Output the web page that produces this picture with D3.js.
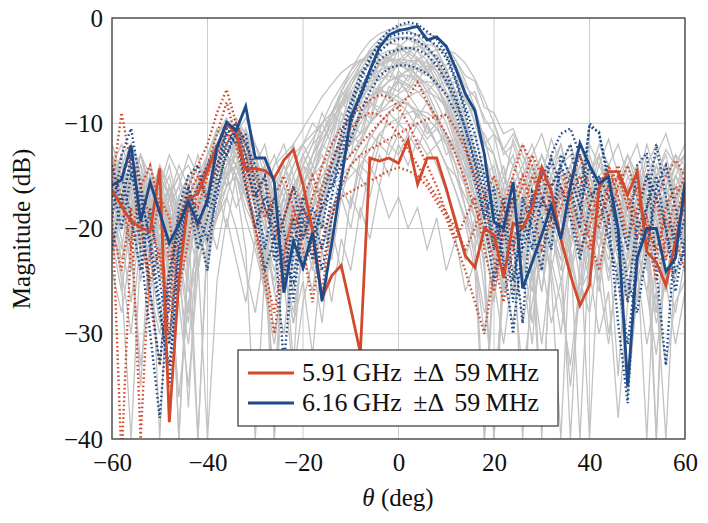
<!DOCTYPE html>
<html><head><meta charset="utf-8">
<script src="https://cdn.jsdelivr.net/npm/d3@7"></script>
<style>
html,body{margin:0;padding:0;background:#fff;}
svg{display:block;font-family:"Liberation Serif","DejaVu Serif",serif;}
</style></head>
<body><svg id="c" width="708" height="523"></svg>
<script>
// ---- data ----
const theta = [-60,-58,-56,-54,-52,-50,-48,-46,-44,-42,-40,-38,-36,-34,-32,-30,-28,-26,-24,-22,
 -20,-18,-16,-14,-12,-10,-8,-6,-4,-2,0,2,4,6,8,10,12,14,16,18,20,22,24,26,28,30,32,34,36,38,
 40,42,44,46,48,50,52,54,56,58,60];
const xTicks = [-60,-40,-20,0,20,40,60];
const yTicks = [-40,-30,-20,-10,0];
const legendLabels = ["5.91\u2009GHz \u00b1\u0394 59\u2009MHz", "6.16\u2009GHz \u00b1\u0394 59\u2009MHz"];

const red591 = [-16.3,-17.9,-19.3,-19.9,-20.3,-14.3,-38.4,-25.0,-17.2,-16.7,
 -14.5,-12.2,-10.1,-10.9,-14.4,-14.3,-14.5,-15.2,-13.5,-12.5,
 -15.8,-20.2,-26.6,-24.5,-23.5,-27.6,-31.8,-13.3,-13.6,-13.3,
 -13.8,-11.6,-15.8,-13.3,-13.3,-16.2,-19.5,-22.6,-23.7,-20.0,
 -20.6,-24.7,-19.5,-20.0,-18.0,-14.2,-16.5,-21.0,-24.4,-27.3,
 -25.4,-16.2,-14.6,-14.6,-16.8,-14.6,-22.2,-23.2,-25.4,-21.3,-16.8];

const blue616 = [-15.9,-15.4,-12.1,-19.3,-15.6,-18.5,-21.4,-19.6,-17.5,-19.5,
 -17.3,-12.3,-9.9,-10.7,-8.4,-13.3,-13.3,-15.6,-26.1,-21.2,
 -23.7,-20.4,-26.9,-21.5,-15.5,-9.4,-7.4,-5.0,-2.8,-1.6,
 -1.2,-1.0,-0.8,-2.1,-1.8,-2.7,-4.8,-7.2,-8.8,-13.0,
 -19.4,-20.0,-15.6,-25.7,-23.2,-20.6,-17.8,-21.0,-16.0,-11.9,
 -14.0,-15.7,-15.1,-20.0,-35.0,-22.8,-20.0,-20.0,-24.1,-22.8,-15.6];

// neighbouring frequencies (dotted)
const redDotted1 = [-16,-9,-14,-20,-25,-22,-28,-19,-16,-14,-12,-9,-6.8,-10,-13,-16,-19,-17,-15,-18,
 -21,-17,-14,-12,-10.5,-9.5,-8.5,-7.8,-7.3,-7.5,-8.5,-10,-12,-14,-16,-18.5,-21,-19,-17,-22,
 -26,-21,-18,-16,-13,-15,-18,-21,-17,-15,-18,-20,-16,-14,-17,-21,-19,-23,-18,-16,-17];
const redDotted2 = [-18,-42,-21,-16,-14,-18,-23,-19,-17,-15,-17,-13,-11,-12,-16,-20,-24,-28,-22,-19,
 -17,-15,-18,-16,-14,-13,-12,-11,-10,-9,-8.5,-7.5,-6.1,-8,-9.5,-11,-13,-15.5,-18,-20,
 -23,-27,-22,-18,-15,-17,-19,-16,-18,-22,-20,-16,-14,-17,-21,-18,-15,-17,-23,-19,-16];
const redDotted3 = [-14,-17,-22,-19,-27,-33,-24,-20,-17,-18,-15,-12,-10.5,-11,-14,-17,-15,-19,-24,-20,
 -18,-22,-26,-19,-16,-14,-13,-12.5,-12,-11.5,-11,-10.5,-10,-9.6,-9.4,-9.2,-10.5,-12.5,-15,-18,
 -22,-18,-15,-12,-14,-17,-20,-18,-16,-13,-16,-19,-17,-15,-18,-16,-20,-25,-21,-17,-15];
const redDotted4 = [-20,-24,-18,-40,-22,-17,-19,-26,-21,-16,-14,-11,-8,-11.5,-15,-20,-25,-30,-23,-18,
 -22,-27,-21,-18,-17,-16.5,-16,-15.5,-15,-14.5,-14.2,-14.5,-15,-16,-17.5,-19,-21.5,-24,-27,-30,
 -24,-20,-17,-15,-18,-22,-19,-17,-15,-18,-21,-24,-19,-16,-14,-17,-20,-22,-19,-21,-24];
const redDotted5 = [-17,-15,-13,-16,-19,-23,-30,-22,-18,-20,-17,-14,-12,-10,-12,-15,-18,-21,-19,-16,
 -18,-20,-16,-13.5,-12,-10.5,-9.5,-9,-9.2,-10,-11,-12.5,-14,-15.5,-17,-18.5,-20,-22,-20,-17,
 -15,-18,-21,-19,-17,-15,-16,-14.5,-17,-20,-22,-18,-16,-15,-17,-19,-22,-17,-15,-13.5,-15];

const blueDotted1 = [-19,-13,-10.5,-16,-22,-28,-33,-24,-16,-20,-24,-15,-11,-10,-12,-14,-18,-20,-33,-22,
 -17,-19,-22,-17,-12,-8.5,-6,-4,-2.2,-1.2,-0.7,-0.4,-0.6,-1.3,-2,-3.4,-5.8,-8.5,-11,-15,
 -18,-24,-21,-29,-16.5,-18,-13,-11,-10.5,-13,-17,-16,-19,-29,-36.6,-20,-18,-12,-17,-22,-19];
const blueDotted2 = [-14,-18,-13,-22,-30,-38,-26,-18,-15,-14,-18,-14,-10.5,-12,-11,-16,-22,-17,-20,-27,
 -19,-23,-17,-14,-11,-8,-5.5,-3.8,-2.5,-1.8,-1.5,-1.4,-1.6,-2,-2.6,-3.8,-6,-9,-12.5,-16,
 -21,-17,-25,-19,-22,-17,-19,-14,-16,-20,-10,-11,-15,-22,-27,-19,-15,-17,-20,-24,-22];
const blueDotted3 = [-17,-15,-19,-24,-18,-25,-31,-21,-17,-22,-19,-16,-13,-11,-14,-17,-15,-23,-19,-16,
 -21,-18,-20,-15,-13,-10,-7.5,-5.5,-4,-3.3,-3,-2.8,-3,-3.5,-4.5,-6,-8,-10.5,-13.5,-17,
 -22,-19,-27,-17,-20,-24,-16,-14,-12,-17,-10.3,-10.8,-16,-18,-22,-14,-12.8,-24,-33,-20,-18];
const blueDotted4 = [-22,-17,-14,-18,-26,-33,-24,-20,-16,-19,-21,-17,-12,-10.5,-13,-18,-24,-21,-25,-19,
 -24,-21,-18,-16,-14,-11.5,-9,-7,-5.5,-4.8,-4.5,-4.5,-4.8,-5.3,-6.2,-7.3,-9,-12,-15.5,-19,
 -16,-23,-30,-21,-17,-19,-22,-13,-15,-18,-14,-17,-21,-25,-31,-23,-18,-15,-20,-26,-21];
const blueDotted5 = [-16,-20,-15,-17,-21,-27,-35,-22,-18,-16,-14,-12,-13,-10.5,-16,-20,-17,-19,-23,-25,
 -18,-20,-24,-19,-15,-10,-7,-5,-3.2,-2.4,-2,-1.9,-2.2,-2.8,-3.8,-5.2,-7.5,-10.5,-14,-19,
 -25,-20,-17,-22,-19,-15,-13.5,-16,-19,-23,-18,-15,-17,-20,-25,-28,-22,-16,-14,-18,-23];

// other frequencies (grey)
const grey01 = [-15,-13,-17,-20,-16,-19,-24,-18,-16,-21,-17,-14,-11,-10,-12,-15,-19,-23,-20,-18,-17,-15,-14,-13,-12,-10,-8,-6,-4.5,-3.5,-3,-2.8,-3.2,-4,-5.5,-7.5,-10,-13,-16,-19,-22,-18,-16,-20,-25,-19,-17,-15,-18,-21,-17,-15,-18,-22,-19,-16,-20,-24,-18,-16,-17];
const grey02 = [-18,-22,-16,-14,-17,-21,-27,-20,-17,-15,-18,-16,-13,-12,-11,-14,-17,-20,-24,-21,-19,-17,-16,-14,-13,-12,-10,-8.5,-7,-6,-5.5,-5,-4.8,-5.2,-6.5,-8,-10,-12,-15,-18,-20,-23,-19,-17,-21,-26,-20,-18,-16,-19,-22,-18,-15,-17,-20,-25,-21,-17,-19,-22,-18];
const grey03 = [-13,-17,-24,-19,-15,-18,-31,-22,-17,-19,-16,-13,-11,-12,-15,-18,-21,-26,-30,-22,-18,-15,-12,-10,-8,-6.5,-5,-3.5,-2.5,-2,-1.8,-2,-2.5,-3.5,-5,-7,-9.5,-12.5,-16,-21,-27,-20,-17,-22,-29,-21,-16,-14,-17,-23,-19,-16,-21,-34,-22,-17,-15,-19,-26,-20,-15];
const grey04 = [-20,-17,-15,-19,-23,-18,-16,-20,-26,-22,-19,-15,-13,-14,-17,-20,-18,-16,-19,-23,-21,-18,-17,-16,-15,-14,-13,-11.5,-10,-9,-8,-7.5,-7,-7,-7.5,-8.5,-10,-12,-14,-17,-21,-18,-20,-25,-19,-16,-18,-21,-24,-19,-17,-20,-23,-18,-16,-19,-22,-28,-21,-18,-20];
const grey05 = [-16,-19,-14,-17,-26,-21,-18,-40,-23,-18,-14,-11,-10,-11,-13,-17,-24,-35,-22,-17,-14,-12,-11,-9,-7.5,-6,-5,-4.5,-4,-3.8,-4,-4.5,-5.5,-7,-9,-11.5,-14,-18,-23,-30,-21,-17,-15,-18,-24,-38,-22,-16,-14,-17,-21,-26,-19,-16,-18,-23,-40,-20,-16,-14,-16];
const grey06 = [-12,-15,-18,-16,-20,-17,-19,-22,-28,-20,-17,-14,-12,-11,-13,-14,-16,-19,-17,-20,-23,-18,-14,-11,-8.5,-6.5,-4.5,-3,-2,-1.3,-0.8,-0.6,-0.9,-1.8,-3,-4.8,-7,-9.5,-13,-17,-20,-22,-18,-16,-19,-17,-15,-18,-23,-27,-18,-15,-14,-17,-21,-19,-16,-18,-22,-19,-16];
const grey07 = [-17,-14,-16,-21,-19,-15,-17,-20,-18,-23,-20,-17,-14,-12,-13,-16,-14,-17,-21,-19,-16,-13,-11,-9.5,-8.5,-7.5,-6.5,-6,-5.8,-5.5,-5.8,-6.3,-7,-8,-9.5,-11,-13,-15.5,-14,-17,-19,-16,-22,-19,-15,-17,-20,-24,-20,-17,-15,-18,-21,-17,-19,-24,-20,-17,-15,-18,-21];
const grey08 = [-21,-18,-15,-13,-16,-20,-18,-22,-37,-21,-18,-15,-13,-12,-14,-18,-22,-19,-16,-18,-21,-19,-17,-14,-11,-9,-7,-5.5,-4.5,-3.8,-3.2,-2.9,-2.7,-3,-4,-5.5,-7.5,-10,-13,-17,-22,-26,-20,-40,-23,-18,-16,-14,-17,-20,-18,-15,-17,-20,-26,-19,-16,-15,-17,-21,-24];
const grey09 = [-15,-18,-21,-17,-14,-17,-19,-25,-20,-17,-21,-19,-16,-15,-17,-20,-23,-19,-22,-26,-20,-17,-15,-14,-13,-12,-11,-10,-9,-8.5,-8,-8.2,-8.8,-9.5,-10.5,-12,-14,-16,-19,-23,-19,-17,-20,-18,-22,-20,-17,-19,-16,-21,-24,-19,-17,-15,-18,-20,-17,-22,-25,-19,-17];
const grey10 = [-14,-12,-15,-19,-17,-22,-20,-17,-15,-17,-19,-16,-14,-13,-15,-17,-15,-18,-24,-29,-22,-18,-16,-15,-13,-11,-9.5,-8,-6.5,-5,-4,-3.2,-2.7,-2.5,-2.7,-3.5,-5,-7,-10,-13,-16,-20,-24,-18,-16,-13,-15,-18,-21,-17,-14,-16,-19,-22,-18,-15,-17,-20,-18,-15,-13];
const grey11 = [-19,-25,-40,-22,-18,-15,-17,-21,-19,-16,-13,-12,-13,-16,-22,-40,-24,-18,-16,-19,-23,-20,-16,-12,-10,-8,-6.5,-5.5,-5,-4.6,-4.5,-4.8,-5.5,-6.5,-8,-10,-12.5,-16,-21,-40,-24,-19,-17,-20,-23,-18,-16,-21,-40,-23,-18,-16,-19,-23,-17,-15,-18,-26,-40,-22,-19];
const grey12 = [-16,-13,-12,-14,-18,-23,-17,-15,-14,-16,-14,-12,-11,-11.5,-13,-15,-17,-20,-18,-15,-13,-11.5,-10,-8,-6.5,-5,-4,-3.6,-3.5,-3.8,-4.3,-5,-6,-7.5,-9.5,-12,-15,-18,-21,-18,-16,-19,-22,-17,-15,-18,-16,-19,-24,-21,-17,-14,-16,-20,-23,-18,-16,-14,-17,-21,-18];
const grey13 = [-22,-19,-16,-18,-15,-17,-21,-26,-19,-16,-15,-14,-12,-13,-15,-18,-21,-24,-20,-17,-18,-21,-17,-14,-12,-10.5,-9,-7.8,-6.8,-6,-5.6,-5.4,-5.6,-6.2,-7.2,-8.6,-10.5,-13,-16,-20,-25,-21,-17,-15,-17,-20,-24,-19,-17,-15,-18,-21,-19,-16,-14,-17,-21,-19,-23,-18,-15];
const grey14 = [-13,-16,-22,-35,-20,-16,-13,-15,-19,-40,-20,-16,-13,-11,-12,-14,-19,-26,-21,-18,-15,-13,-11.5,-10,-8,-6,-4.5,-3.3,-2.5,-2.1,-1.9,-1.8,-2.1,-2.8,-4,-5.8,-8,-11,-15,-19,-17,-15,-18,-24,-31,-19,-15,-13,-15,-18,-21,-25,-18,-15,-17,-22,-19,-16,-14,-16,-20];
const grey15 = [-18,-16,-19,-17,-21,-24,-18,-16,-13,-15,-17,-15,-13,-12,-14,-17,-20,-17,-15,-13,-12,-11,-10,-9,-8,-7.2,-6.7,-6.5,-6.8,-7.3,-8,-9,-10.5,-12,-14,-16.5,-19,-23,-19,-17,-20,-23,-18,-16,-19,-22,-20,-17,-19,-25,-19,-17,-15,-18,-22,-27,-20,-16,-18,-22,-19];
const grey16 = [-20,-23,-18,-15,-17,-20,-17,-14,-16,-19,-22,-18,-15,-14,-16,-19,-22,-25,-19,-16,-14,-15,-17,-15,-12,-10,-8,-6.5,-5,-3.8,-2.8,-2,-1.6,-1.5,-1.8,-2.6,-4,-6,-8.5,-11.5,-15,-19,-17,-21,-18,-16,-20,-23,-17,-14,-16,-20,-25,-19,-16,-14,-17,-21,-18,-16,-14];
const grey17 = [-17,-20,-16,-14,-19,-40,-21,-17,-20,-24,-18,-15,-12,-11,-12,-16,-23,-40,-20,-16,-14,-16,-19,-13,-10,-8,-6.5,-5.3,-4.5,-4.1,-3.9,-4,-4.4,-5.2,-6.5,-8.2,-10.5,-13.5,-17,-24,-40,-22,-18,-16,-20,-17,-15,-17,-22,-40,-21,-17,-15,-18,-20,-17,-22,-40,-19,-16,-18];
const grey18 = [-16,-14,-17,-22,-19,-16,-20,-23,-17,-20,-23,-18,-16,-15,-17,-15,-18,-21,-17,-20,-22,-19,-18,-17,-16,-15,-14,-12.5,-11,-10,-9.5,-9,-8.8,-9,-9.7,-11,-12.5,-14.5,-17,-20,-23,-18,-16,-19,-21,-18,-20,-16,-18,-21,-23,-19,-17,-20,-24,-21,-18,-16,-19,-23,-20];
const grey19 = [-14,-17,-20,-18,-22,-19,-16,-18,-21,-18,-15,-13,-10.5,-10,-11,-13,-16,-18,-16,-14,-12,-10,-11,-9,-7,-5.5,-4.2,-3.2,-2.6,-2.4,-2.5,-3,-3.8,-5,-6.5,-8.5,-11,-14,-18,-22,-18,-21,-26,-19,-16,-14,-16,-19,-17,-20,-16,-18,-21,-24,-20,-17,-15,-13,-16,-19,-17];
const grey20 = [-19,-16,-14,-16,-20,-18,-17,-15,-18,-22,-17,-14,-12,-13,-16,-21,-25,-22,-19,-21,-24,-20,-17,-15,-13.5,-11.5,-9.5,-7.8,-6.3,-5.2,-4.5,-4.1,-4,-4.3,-5,-6.2,-8,-10.5,-13.5,-17,-21,-17,-14,-16,-19,-23,-21,-18,-15,-13,-15,-18,-17,-22,-34,-21,-18,-15,-14,-17,-22];
const grey21 = [-15,-18,-17,-13,-15,-22,-31,-20,-16,-14,-16,-14,-12,-12.5,-14,-17,-19,-16,-21,-33,-19,-15,-12.5,-10.5,-8.5,-7,-5.5,-4.3,-3.5,-3.1,-3,-3.3,-4,-5,-6.5,-8.5,-11.5,-15,-19,-26,-37,-24,-19,-17,-21,-26,-18,-15,-17,-21,-40,-22,-18,-16,-19,-17,-21,-28,-20,-17,-15];
const grey22 = [-23,-18,-15,-17,-19,-16,-18,-23,-29,-19,-16,-14,-13.5,-15,-18,-20,-17,-15,-17,-20,-18,-17,-16,-15,-14,-13,-11.5,-10,-9,-8,-7.2,-6.6,-6.2,-6,-6.3,-7,-8.3,-10,-12.5,-15.5,-19,-23,-18,-16,-14,-17,-20,-23,-18,-16,-19,-16,-14,-17,-20,-18,-15,-17,-21,-25,-19];
const grey23 = [-17,-14,-12,-15,-18,-16,-21,-19,-17,-15,-13,-11,-10,-10.5,-12,-14,-16,-20,-24,-19,-16,-14,-12,-9.5,-7,-5,-3.4,-2.2,-1.5,-1.1,-1,-1.2,-1.7,-2.6,-4,-6,-8.5,-11.5,-15,-19,-23,-19,-16,-14,-17,-21,-18,-16,-14,-17,-20,-24,-19,-16,-14,-16,-19,-22,-17,-14,-13];
const grey24 = [-21,-26,-19,-16,-14,-17,-20,-18,-24,-40,-21,-17,-15,-14,-15,-18,-22,-20,-18,-16,-19,-23,-18,-14,-11.5,-9.5,-8.2,-7.4,-7,-7.1,-7.5,-8.2,-9.2,-10.5,-12,-14,-16.5,-19.5,-24,-40,-22,-18,-16,-18,-22,-19,-25,-40,-21,-18,-17,-15,-18,-21,-17,-19,-24,-20,-17,-15,-16];
const grey25 = [-16,-19,-15,-13,-16,-21,-18,-16,-19,-17,-20,-17,-15,-13,-12,-14,-17,-20,-23,-18,-16,-19,-22,-18,-16,-14,-12,-10,-8.5,-7,-5.8,-4.8,-4,-3.4,-3,-3,-3.4,-4.3,-5.8,-7.8,-10,-12.5,-11,-13,-16,-19,-17,-15,-18,-22,-19,-16,-14,-17,-20,-23,-18,-15,-17,-19,-16];
const grey26 = [-13,-15,-18,-21,-17,-14,-16,-19,-22,-18,-15,-12,-10,-9.5,-11,-13,-16,-14,-13,-12,-10.5,-9,-7.5,-6.3,-5.2,-4.5,-4,-4,-4.3,-5,-6,-7.2,-8.6,-10.2,-12,-14,-16.5,-19,-22,-18,-15,-17,-20,-24,-19,-16,-14,-17,-21,-18,-15,-13,-16,-19,-22,-18,-16,-19,-16,-13,-14];
const grey27 = [-14,-18,-13,-16,-22,-17,-15,-19,-24,-17,-13,-11,-9.5,-12,-14,-18,-15,-21,-17,-14,-12,-14,-11,-9,-10,-7,-8,-5,-6,-4,-4.5,-3.5,-5,-4,-6.5,-6,-9,-10,-14,-13,-17,-14,-19,-15,-13,-17,-20,-16,-14,-18,-15,-13,-17,-20,-16,-14,-18,-15,-13,-17,-14];
const grey28 = [-19,-15,-21,-17,-14,-19,-16,-23,-18,-21,-16,-19,-14,-13,-17,-13,-19,-16,-22,-18,-15,-18,-14,-16,-12,-13,-9,-10,-7,-8,-6,-7,-5.5,-7,-6,-9,-8,-12,-11,-15,-14,-18,-15,-21,-17,-15,-19,-16,-22,-17,-20,-16,-19,-15,-18,-21,-16,-19,-14,-18,-21];
const grey29 = [-16,-20,-17,-25,-19,-22,-18,-40,-21,-17,-20,-16,-13,-15,-12,-16,-20,-17,-25,-20,-17,-21,-18,-15,-17,-14,-15,-11,-12,-9,-10,-8,-9.5,-8,-10,-9,-12,-11.5,-15,-14,-18,-16,-22,-18,-20,-24,-18,-21,-17,-23,-18,-22,-17,-20,-27,-19,-23,-18,-21,-17,-19];
const grey30 = [-22,-17,-19,-15,-18,-14,-20,-17,-15,-18,-14,-12,-15,-11,-13,-17,-14,-18,-15,-12,-16,-13,-10,-12,-8,-9,-6,-7,-4,-5,-3,-4.5,-3,-5,-4,-6.5,-6,-9,-8.5,-12,-11,-15,-13,-17,-14,-18,-15,-12,-16,-14,-17,-13,-16,-19,-15,-17,-13,-16,-19,-15,-17];
const grey31 = [-18,-23,-20,-16,-21,-25,-19,-22,-17,-20,-24,-18,-15,-18,-16,-20,-24,-21,-18,-23,-20,-24,-19,-22,-16,-18,-13,-14,-11,-12,-10,-11,-9,-11,-10,-13,-12,-15,-14,-18,-17,-21,-18,-23,-19,-40,-20,-25,-21,-19,-23,-20,-24,-21,-18,-22,-26,-20,-23,-19,-22];
const grey32 = [-13,-16,-12,-15,-18,-14,-17,-21,-16,-19,-15,-13,-10,-11,-9.5,-12,-15,-13,-16,-19,-14,-12,-9,-11,-7,-8,-5,-6,-3.5,-4,-2.5,-3.5,-2,-3.5,-3,-5,-4.5,-7.5,-7,-10,-10,-13,-12,-15,-13,-11,-14,-12,-16,-13,-15,-12,-14,-17,-14,-12,-16,-13,-11,-14,-13];
const grey33 = [-20,-24,-30,-21,-26,-33,-22,-27,-35,-24,-19,-22,-17,-20,-24,-28,-22,-30,-25,-34,-27,-23,-29,-20,-24,-17,-19,-14,-16,-12,-13,-11,-12.5,-10,-12,-11,-14,-13,-17,-16,-22,-26,-21,-29,-24,-31,-23,-27,-33,-25,-28,-22,-30,-24,-36,-26,-23,-29,-25,-31,-26];
const grey34 = [-17,-21,-27,-19,-23,-29,-21,-25,-31,-22,-18,-16,-20,-15,-19,-22,-26,-20,-24,-28,-22,-26,-19,-23,-17,-20,-15,-17,-13,-15,-12,-14,-11.5,-13,-12,-14,-15,-17,-19,-23,-40,-25,-29,-22,-26,-20,-24,-30,-22,-27,-21,-25,-31,-23,-27,-22,-26,-32,-24,-28,-23];
const grey35 = [-24,-28,-22,-33,-26,-30,-24,-36,-27,-23,-40,-25,-19,-23,-27,-21,-26,-31,-24,-29,-25,-32,-22,-27,-21,-24,-18,-21,-16,-19,-17,-20,-18,-22,-19,-24,-21,-26,-23,-28,-25,-31,-24,-34,-27,-23,-29,-25,-35,-26,-24,-30,-26,-38,-27,-24,-31,-26,-33,-27,-25];
const grey36 = [-15,-19,-16,-13,-17,-20,-16,-19,-15,-17,-13,-10.5,-12,-10,-11.5,-14,-12,-16,-14,-17,-13,-15,-12,-13,-9,-10.5,-7,-8,-5,-6,-4,-5,-3.8,-5,-4.5,-6,-5.5,-8,-9,-12,-13,-16,-11.5,-14,-12,-15,-11.5,-14,-13,-16,-12,-14,-11.5,-15,-13,-16,-12,-15,-12.5,-14,-12];
const grey37 = [-17,-14,-19,-22,-16,-19,-25,-18,-22,-19,-15,-13,-16,-12,-14,-18,-16,-20,-23,-17,-19,-16,-20,-14,-15,-11,-12,-8,-9,-6.5,-7,-5.5,-6,-4.5,-6,-5,-7,-7.5,-10,-11,-13,-17,-14,-16,-19,-15,-18,-21,-16,-19,-16,-19,-22,-16,-19,-15,-18,-40,-16,-19,-17];
const grey38 = [-16,-13,-17,-15,-20,-17,-14,-18,-16,-13,-17,-14,-12,-14,-10.5,-13,-17,-14,-12,-15,-18,-14,-16,-12,-14,-10,-11,-8,-8.5,-7,-6,-6.5,-5,-5.5,-4,-4.5,-4,-5.5,-6,-8.5,-9,-11,-10.5,-13,-15,-13,-16,-14,-12,-15,-13,-16,-14,-12,-15,-17,-14,-12,-15,-13,-16];
const grey39 = [-21,-18,-24,-20,-17,-22,-19,-26,-21,-18,-22,-19,-17,-14,-17,-20,-18,-40,-20,-24,-21,-18,-22,-19,-16,-18,-14,-15,-12,-13,-11,-12,-10,-11.5,-10.5,-12,-11.5,-14,-15,-18,-19,-23,-20,-17,-21,-24,-19,-22,-18,-21,-25,-20,-17,-21,-24,-19,-22,-20,-17,-21,-18];
const grey40 = [-14,-17,-15,-20,-16,-19,-22,-17,-20,-15,-17,-13,-11,-13,-15,-12,-14,-17,-14,-16,-19,-15,-13,-15,-11,-12,-8.5,-9.5,-6.5,-7.5,-5,-6,-4,-5,-3.5,-5,-4.5,-6.5,-7.5,-9.5,-11,-12.5,-14,-12,-15,-17,-13,-16,-14,-12,-15,-17,-14,-16,-13,-15,-18,-14,-17,-14,-15];

const greySeries = [grey01,grey02,grey03,grey04,grey05,grey06,grey07,grey08,grey09,grey10,grey11,grey12,grey13,
  grey14,grey15,grey16,grey17,grey18,grey19,grey20,grey21,grey22,grey23,grey24,grey25,grey26,grey27,grey28,
  grey29,grey30,grey31,grey32,grey33,grey34,grey35,grey36,grey37,grey38,grey39,grey40];
const redDottedSeries = [redDotted1,redDotted2,redDotted3,redDotted4,redDotted5];
const blueDottedSeries = [blueDotted1,blueDotted2,blueDotted3,blueDotted4,blueDotted5];

// ---- drawing ----
const RED = "#d2492c", BLUE = "#1f4a8a", GREY = "#c2c2c2";
const svg = d3.select("#c");
const L = 112, R = 685, T = 18, B = 439;
const x = d3.scaleLinear().domain([-60, 60]).range([L, R]);
const y = d3.scaleLinear().domain([-40, 0]).range([B, T]);
const fmt = d => (d < 0 ? "\u2212" + Math.abs(d) : String(d));

svg.append("defs").append("clipPath").attr("id", "clip")
  .append("rect").attr("x", L).attr("y", T).attr("width", R - L).attr("height", B - T);

// grid
const grid = svg.append("g");
grid.selectAll("line.vx").data(xTicks).join("line")
  .attr("x1", d => x(d)).attr("x2", d => x(d)).attr("y1", T).attr("y2", B)
  .attr("stroke", "#cccccc").attr("stroke-width", 1);
grid.selectAll("line.hy").data(yTicks).join("line")
  .attr("y1", d => y(d)).attr("y2", d => y(d)).attr("x1", L).attr("x2", R)
  .attr("stroke", "#cccccc").attr("stroke-width", 1);

const line = d3.line().x((d, i) => x(theta[i])).y(d => y(d));
const plot = svg.append("g").attr("clip-path", "url(#clip)");

plot.selectAll("path.g").data(greySeries).join("path")
  .attr("d", line).attr("fill", "none").attr("stroke", GREY).attr("stroke-width", 1.3);

plot.selectAll("path.rd").data(redDottedSeries).join("path")
  .attr("d", line).attr("fill", "none").attr("stroke", RED).attr("stroke-width", 2.4)
  .attr("stroke-dasharray", "1.6 2.6");
plot.selectAll("path.bd").data(blueDottedSeries).join("path")
  .attr("d", line).attr("fill", "none").attr("stroke", BLUE).attr("stroke-width", 2.4)
  .attr("stroke-dasharray", "1.6 2.6");

plot.append("path").datum(red591).attr("d", line).attr("fill", "none")
  .attr("stroke", RED).attr("stroke-width", 2.8).attr("stroke-linejoin", "miter");
plot.append("path").datum(blue616).attr("d", line).attr("fill", "none")
  .attr("stroke", BLUE).attr("stroke-width", 2.8).attr("stroke-linejoin", "miter");

// frame
svg.append("rect").attr("x", L).attr("y", T).attr("width", R - L).attr("height", B - T)
  .attr("fill", "none").attr("stroke", "#333").attr("stroke-width", 1.2);

// axes
const xAxis = d3.axisBottom(x).tickValues(xTicks).tickFormat(fmt).tickSize(0).tickPadding(14);
const gx = svg.append("g").attr("transform", `translate(0,${B})`).call(xAxis);
gx.select(".domain").remove();
gx.selectAll("text").attr("font-size", 25).attr("font-family", "Liberation Serif").attr("fill", "#111");

const yAxis = d3.axisLeft(y).tickValues(yTicks).tickFormat(fmt).tickSize(0).tickPadding(9);
const gy = svg.append("g").attr("transform", `translate(${L},0)`).call(yAxis);
gy.select(".domain").remove();
gy.selectAll("text").attr("font-size", 25).attr("font-family", "Liberation Serif").attr("fill", "#111");

// axis labels
svg.append("text").attr("x", 398).attr("y", 506).attr("text-anchor", "middle")
  .attr("font-size", 25).attr("fill", "#111")
  .call(t => { t.append("tspan").attr("font-style", "italic").text("\u03b8");
               t.append("tspan").text(" (deg)"); });
svg.append("text").attr("transform", "translate(30,229) rotate(-90)").attr("text-anchor", "middle")
  .attr("font-size", 25).attr("fill", "#111").text("Magnitude (dB)");

// legend
const lg = svg.append("g");
lg.append("rect").attr("x", 238).attr("y", 350).attr("width", 320).attr("height", 76)
  .attr("fill", "#fff").attr("stroke", "#222").attr("stroke-width", 1.1);
const legendItems = [{c: RED, t: legendLabels[0], yy: 373}, {c: BLUE, t: legendLabels[1], yy: 403}];
legendItems.forEach(it => {
  lg.append("line").attr("x1", 248).attr("x2", 294).attr("y1", it.yy).attr("y2", it.yy)
    .attr("stroke", it.c).attr("stroke-width", 2.8);
  lg.append("text").attr("x", 302).attr("y", it.yy + 8).attr("font-size", 26)
    .attr("word-spacing", 5).attr("fill", "#111").text(it.t);
});
</script></body></html>
